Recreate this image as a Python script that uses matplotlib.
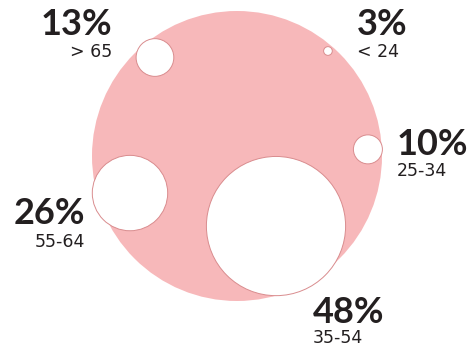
import numpy as np
import matplotlib
matplotlib.use("Agg")
import matplotlib.pyplot as plt
from matplotlib.patches import Circle

# data: share of each age group
groups = ["> 65", "< 24", "25-34", "55-64", "35-54"]
shares = [13, 3, 10, 26, 48]

# layout: where each small circle sits inside the big one (angle in deg, distance in % units)
angles = [129.8, 49.1, 2.9, 199.1, -60.9]
dists = [88.4, 95.8, 90.4, 78.1, 55.3]
# label anchor (x, baseline of big number, baseline of small text, alignment)
label_pos = [
    (112, 35, 57, "right"),
    (357, 35, 57, "left"),
    (397, 155, 176, "left"),
    (85, 224, 247, "right"),
    (313, 323, 343, "left"),
]

pink = "#F7B8BA"
edge = "#D98C8E"
txt = "#231F20"

W, H = 471, 350
fig = plt.figure(figsize=(W / 100, H / 100), dpi=100)
ax = fig.add_axes([0, 0, 1, 1])
ax.set_xlim(0, W)
ax.set_ylim(H, 0)
ax.set_aspect("equal")
ax.axis("off")

cx, cy = 237, 156
k = 1.45  # px per percent unit
ax.add_patch(Circle((cx, cy), 100 * k, facecolor=pink, edgecolor="none"))

for share, ang, d in zip(shares, angles, dists):
    a = np.deg2rad(ang)
    x = cx + d * k * np.cos(a)
    y = cy - d * k * np.sin(a)
    ax.add_patch(Circle((x, y), share * k, facecolor="white", edgecolor=edge, lw=0.7))

for share, grp, (lx, yb, ys, ha) in zip(shares, groups, label_pos):
    ax.text(lx, yb, f"{share}%", ha=ha, va="baseline", fontsize=26,
            fontweight="bold", family=["Lato", "DejaVu Sans"], color=txt)
    ax.text(lx, ys, grp, ha=ha, va="baseline", fontsize=12.5,
            family=["DejaVu Sans"], color=txt)

fig.savefig("out.png", dpi=100)
